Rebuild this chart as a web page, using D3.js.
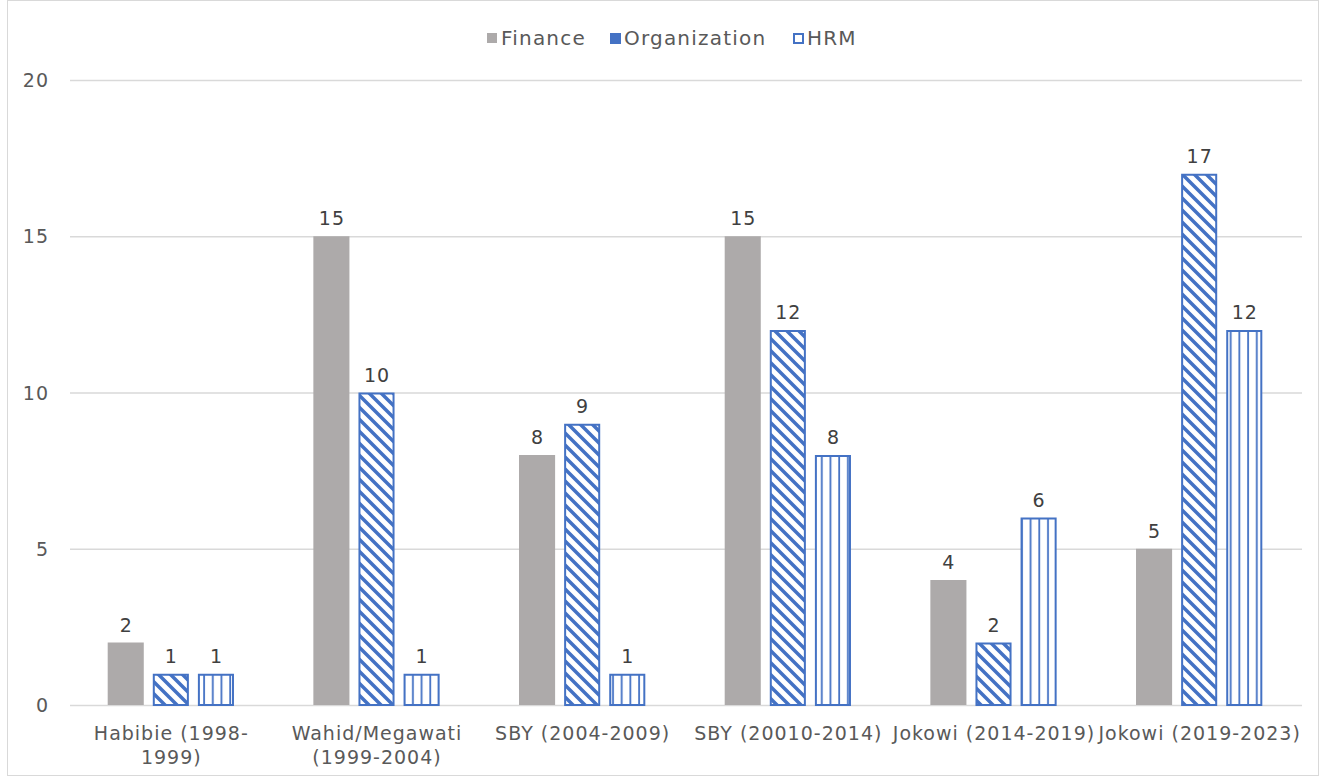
<!DOCTYPE html>
<html>
<head>
<meta charset="utf-8">
<script src="https://cdn.jsdelivr.net/npm/d3@7"></script>
<style>
  body { margin: 0; background: #fff; }
  text { font-family: "DejaVu Sans", sans-serif; fill: #595959; letter-spacing: 1px; }
</style>
</head>
<body>
<div id="chart"></div>
<script>
const categories = [
    ["Habibie (1998-", "1999)"],
    ["Wahid/Megawati", "(1999-2004)"],
    ["SBY (2004-2009)"],
    ["SBY (20010-2014)"],
    ["Jokowi (2014-2019)"],
    ["Jokowi (2019-2023)"]
];
const seriesNames = ["Finance", "Organization", "HRM"];
const finance = [2, 15, 8, 15, 4, 5];
const organization = [1, 10, 9, 12, 2, 17];
const hrm = [1, 1, 1, 8, 6, 12];
const yTicks = [0, 5, 10, 15, 20];

const width = 1323;
const height = 779;
const margin = { top: 80, right: 21, bottom: 74, left: 68 };
const blue = "#4472C4";

const svg = d3.select("#chart")
    .append("svg")
    .attr("width", width)
    .attr("height", height);

svg.append("rect")
    .attr("x", 7.5).attr("y", 0.5)
    .attr("width", width - 12).attr("height", height - 4)
    .attr("fill", "none").attr("stroke", "#d9d9d9");

const defs = svg.append("defs");
const diag = defs.append("pattern")
    .attr("id", "diag")
    .attr("patternUnits", "userSpaceOnUse")
    .attr("width", 12).attr("height", 12);
diag.append("rect").attr("width", 12).attr("height", 12).attr("fill", "#fff");
diag.append("path")
    .attr("d", "M-3,-3 L15,15 M-3,9 L3,15 M9,-3 L15,3")
    .attr("stroke", blue).attr("stroke-width", 3.5);

const vert = defs.append("pattern")
    .attr("id", "vert")
    .attr("patternUnits", "userSpaceOnUse")
    .attr("width", 8.7).attr("height", 10);
vert.append("rect").attr("width", 8.7).attr("height", 10).attr("fill", "#fff");
vert.append("line")
    .attr("x1", 4).attr("x2", 4).attr("y1", 0).attr("y2", 10)
    .attr("stroke", blue).attr("stroke-width", 1.8);

const fills = ["#ADAAAA", "url(#diag)", "url(#vert)"];
const strokes = ["none", blue, blue];

const x0 = d3.scaleBand()
    .domain(d3.range(categories.length))
    .range([margin.left, width - margin.right]);

const x1 = d3.scaleBand()
    .domain(seriesNames)
    .range([0, x0.bandwidth()])
    .paddingInner(0.2)
    .paddingOuter(0.88);

const y = d3.scaleLinear()
    .domain([0, 20])
    .range([height - margin.bottom, margin.top]);

svg.append("g")
    .selectAll("line")
    .data(yTicks)
    .join("line")
    .attr("x1", 70)
    .attr("x2", width - margin.right)
    .attr("y1", d => y(d) + 0.5)
    .attr("y2", d => y(d) + 0.5)
    .attr("stroke", "#d9d9d9")
    .attr("stroke-width", 1.3);

svg.append("g")
    .selectAll("text")
    .data(yTicks)
    .join("text")
    .attr("x", 49)
    .attr("y", d => y(d) + 7)
    .attr("text-anchor", "end")
    .style("font-size", "19px")
    .text(d => d);

const series = [finance, organization, hrm];
const rows = [];
series.forEach((vals, s) => vals.forEach((v, i) => rows.push({ s, i, v })));

svg.append("g")
    .selectAll("rect")
    .data(rows)
    .join("rect")
    .attr("x", d => x0(d.i) + x1(seriesNames[d.s]) + (d.s ? 1 : 0))
    .attr("y", d => y(d.v) + (d.s ? 1 : 0))
    .attr("width", d => x1.bandwidth() - (d.s ? 2 : 0))
    .attr("height", d => y(0) - y(d.v) - (d.s ? 1 : 0))
    .attr("fill", d => fills[d.s])
    .attr("stroke", d => strokes[d.s])
    .attr("stroke-width", 2);

svg.append("g")
    .selectAll("text")
    .data(rows)
    .join("text")
    .attr("x", d => x0(d.i) + x1(seriesNames[d.s]) + x1.bandwidth() / 2 + 0.5)
    .attr("y", d => y(d.v) - 11)
    .attr("text-anchor", "middle")
    .style("font-size", "19px")
    .style("fill", "#404040")
    .text(d => d.v);

const catG = svg.append("g")
    .selectAll("text")
    .data(categories)
    .join("text")
    .attr("x", (d, i) => x0(i) + x0.bandwidth() / 2 + 0.5)
    .attr("y", 740)
    .attr("text-anchor", "middle")
    .style("font-size", "19px");
catG.selectAll("tspan")
    .data(d => d)
    .join("tspan")
    .attr("x", function () { return d3.select(this.parentNode).attr("x"); })
    .attr("dy", (d, i) => i ? 24 : 0)
    .text(d => d);

const legendX = [487, 610, 793];
const legend = svg.append("g");
seriesNames.forEach((name, s) => {
    legend.append("rect")
        .attr("x", legendX[s] + (s ? 1 : 0))
        .attr("y", 33 + (s ? 1 : 0))
        .attr("width", s ? 9 : 10)
        .attr("height", s ? 9 : 10)
        .attr("fill", s === 1 ? blue : (s === 2 ? "#fff" : fills[0]))
        .attr("stroke", strokes[s])
        .attr("stroke-width", 2);
    legend.append("text")
        .attr("x", legendX[s] + 14)
        .attr("y", 45)
        .style("font-size", "20px")
        .style("letter-spacing", "1.2px")
        .text(name);
});
</script>
</body>
</html>
